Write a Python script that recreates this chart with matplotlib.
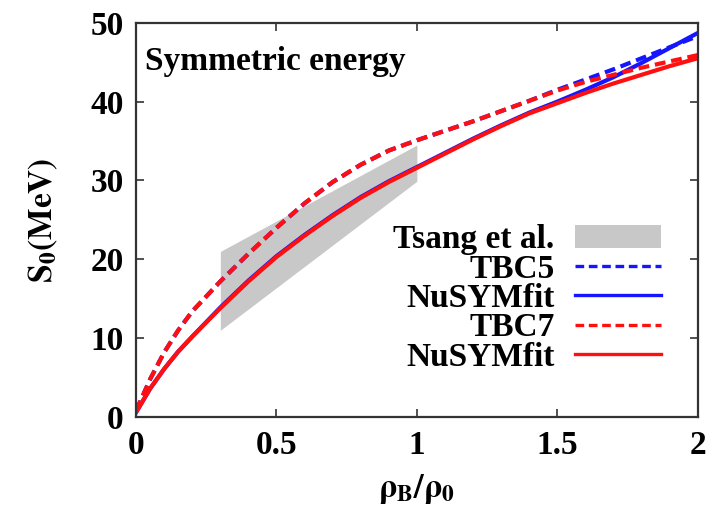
import numpy as np
import matplotlib
matplotlib.use("Agg")
from matplotlib import pyplot as plt

plt.rcParams["font.family"] = ["Liberation Serif", "DejaVu Serif"]
plt.rcParams["font.weight"] = "bold"
plt.rcParams["mathtext.fontset"] = "stix"

# density ratio rho_B / rho_0
rho = [0.0, 0.05, 0.1, 0.15, 0.2, 0.3, 0.4, 0.5, 0.6, 0.7, 0.8, 0.9, 1.0,
       1.1, 1.2, 1.3, 1.4, 1.5, 1.6, 1.7, 1.8, 1.9, 2.0]

# symmetry energy S_0 (MeV)
tbc5 = [0.8, 4.8, 8.2, 11.0, 13.4, 17.2, 20.7, 24.0, 27.1, 29.8, 32.0, 33.8, 35.1,
        36.3, 37.5, 38.8, 40.1, 41.5, 42.8, 44.1, 45.5, 46.9, 48.3]
fit5 = [0.6, 3.6, 6.1, 8.3, 10.2, 13.9, 17.3, 20.4, 23.1, 25.6, 27.9, 29.9, 31.7,
        33.5, 35.3, 37.0, 38.6, 40.0, 41.5, 43.1, 44.9, 46.8, 48.7]
tbc7 = [0.8, 4.8, 8.2, 11.0, 13.4, 17.2, 20.7, 24.0, 27.1, 29.8, 32.0, 33.8, 35.1,
        36.3, 37.5, 38.8, 40.1, 41.4, 42.5, 43.4, 44.3, 45.1, 45.9]
fit7 = [0.6, 3.6, 6.1, 8.3, 10.2, 13.8, 17.2, 20.3, 23.0, 25.5, 27.8, 29.8, 31.6,
        33.4, 35.2, 36.9, 38.5, 39.8, 41.1, 42.3, 43.4, 44.5, 45.5]

# Tsang et al. constraint band
band_rho = [0.3, 1.0]
band_low = [11.0, 29.9]
band_high = [21.0, 34.5]

fig = plt.figure(figsize=(7.2, 5.12), dpi=100)
ax = fig.add_axes([0.189, 0.1855, 0.78, 0.77])

ax.fill_between(band_rho, band_low, band_high, color="#c8c8c8", lw=0,
                label="Tsang et al.")
dash = (2.6, 1.4)
ax.plot(rho, tbc5, color="#1515ff", lw=3, dashes=dash, label="TBC5")
ax.plot(rho, fit5, color="#1515ff", lw=3, label="NuSYMfit")
ax.plot(rho, tbc7, color="#ff1010", lw=3, dashes=dash, label="TBC7")
ax.plot(rho, fit7, color="#ff1010", lw=3, label="NuSYMfit")

ax.set_xlim(0, 2)
ax.set_ylim(0, 50)
ax.set_xticks([0, 0.5, 1, 1.5, 2])
ax.set_xticklabels(["0", "0.5", "1", "1.5", "2"])
ax.set_yticks(range(0, 51, 10))
ax.tick_params(direction="in", top=True, right=True, length=6, width=1.2,
               labelsize=24, pad=9, color="#333333")
for s in ax.spines.values():
    s.set_linewidth(1.6)
    s.set_color("#333333")

ax.set_xlabel(r"$\mathrm{\rho}_{\mathbf{B}}/\mathrm{\rho}_{\mathbf{0}}$",
              fontsize=24, labelpad=8)
ax.set_ylabel(r"$\mathbf{S_0(MeV)}$", fontsize=24, labelpad=22)
ax.text(0.016, 0.88, "Symmetric energy", transform=ax.transAxes,
        fontsize=24, fontweight="bold", va="baseline", ha="left")

leg = ax.legend(loc="lower right", bbox_to_anchor=(0.965, 0.07), frameon=False,
                markerfirst=False, fontsize=24, handlelength=2.6,
                handletextpad=0.6, labelspacing=-0.05, borderpad=0)
for t in leg.get_texts():
    t.set_ha("right")
leg._legend_box.align = "right"
for h in leg.legend_handles[1:]:
    h.set_linewidth(2.4)

fig.savefig("out.png", dpi=100)
